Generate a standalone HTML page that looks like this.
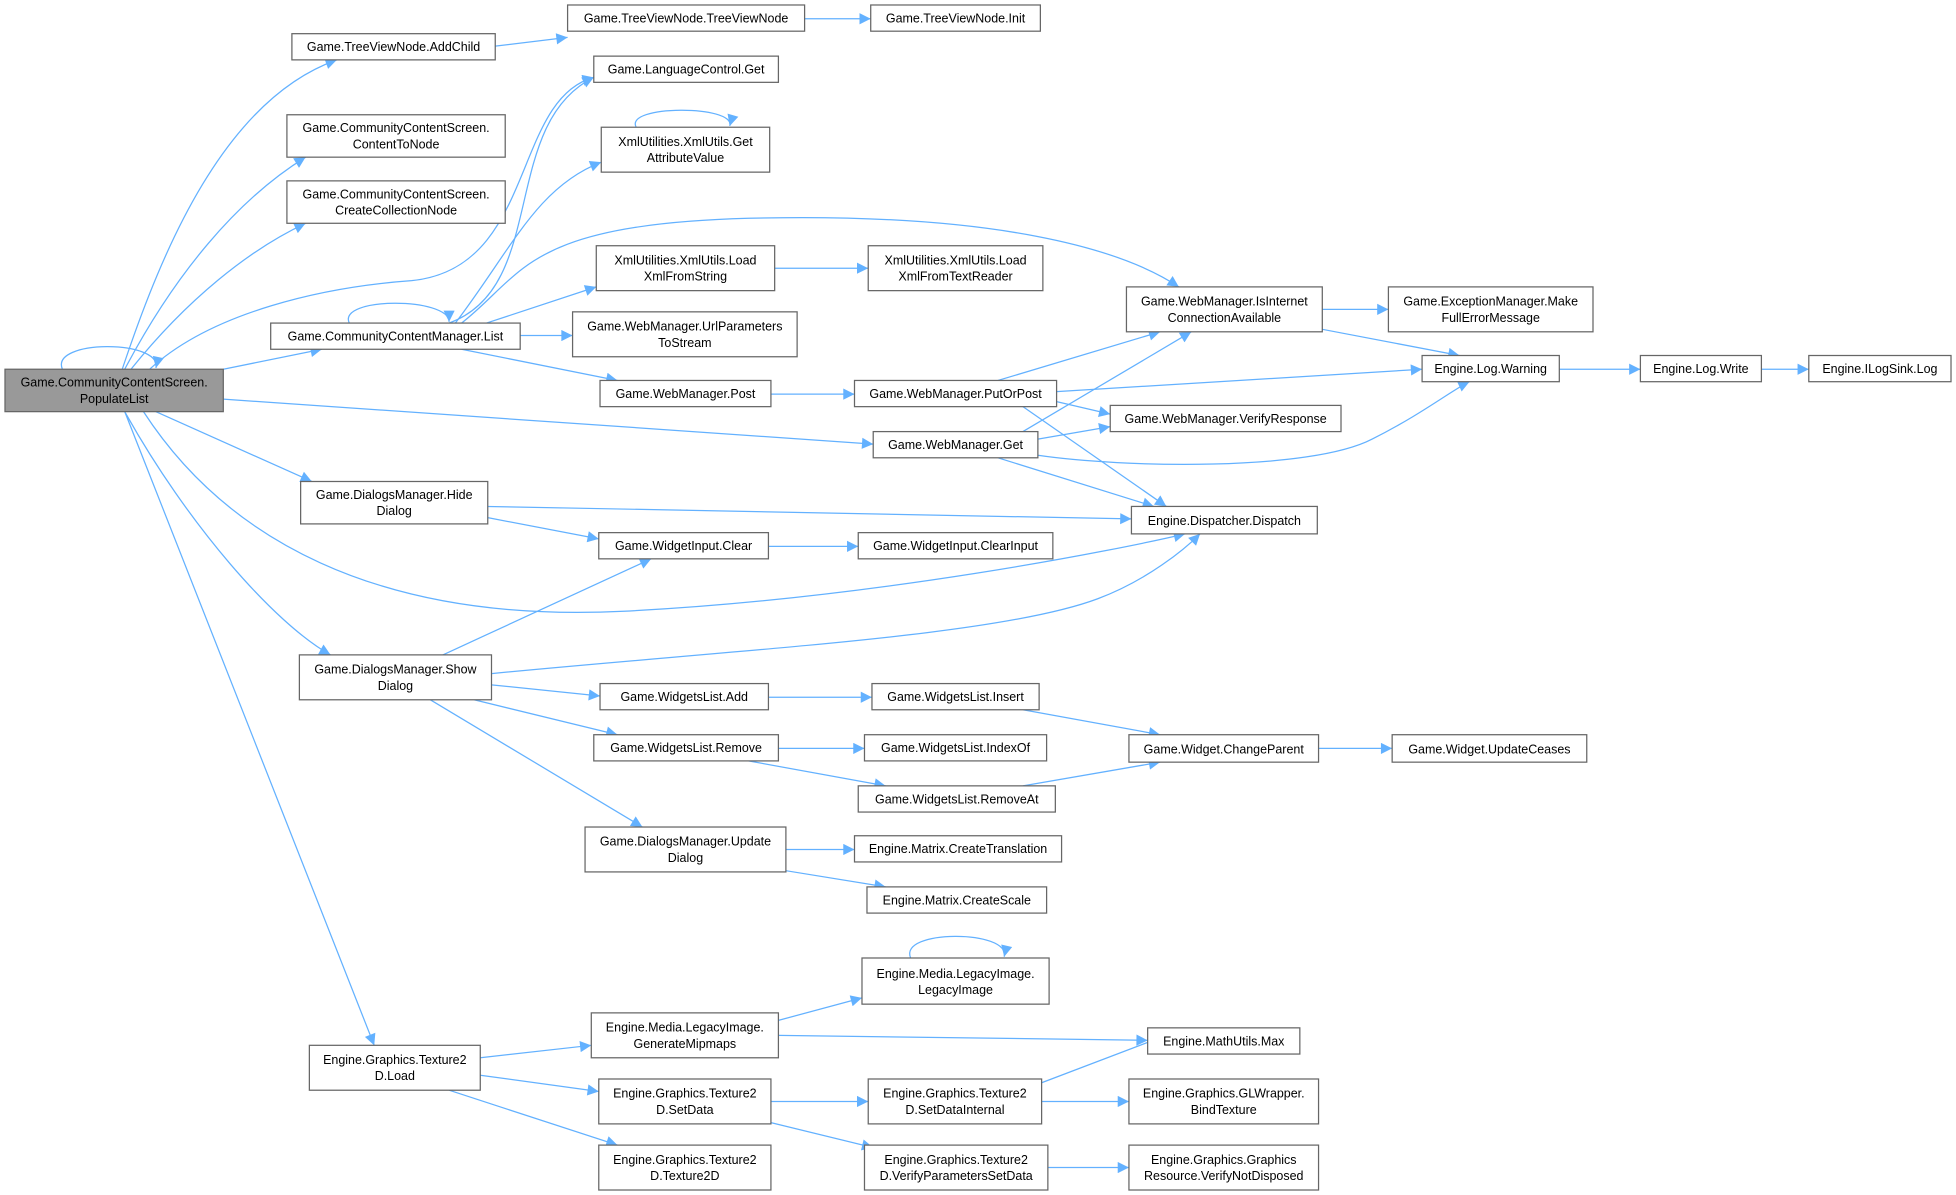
<!DOCTYPE html>
<html><head><meta charset="utf-8"><style>
html,body{margin:0;padding:0;background:#fff;width:1956px;height:1195px;overflow:hidden}
svg text{font-family:"Liberation Sans",Arial,sans-serif;font-size:10px;fill:#000;text-anchor:middle}
.n{fill:#fff;stroke:#666;stroke-width:1}
.e{fill:none;stroke:#63b1ff;stroke-width:1;marker-end:url(#a)}
</style></head><body>
<svg width="1956" height="1195" viewBox="0 0 1568 958" preserveAspectRatio="none" xmlns="http://www.w3.org/2000/svg">
<defs><marker id="a" viewBox="0 0 10 10" refX="10" refY="5" markerWidth="10" markerHeight="9" markerUnits="userSpaceOnUse" orient="auto"><path d="M0,0 L10,5 L0,10 z" fill="#63b1ff"/></marker></defs>
<g>
<path class="e" d="M50,296 C40,272 130,272 125,295"/>
<path class="e" d="M98,296 C130,200 180,80 270,48"/>
<path class="e" d="M100,296 C140,220 190,160 245,126"/>
<path class="e" d="M105,296 C150,240 200,200 245,179"/>
<path class="e" d="M120,296 C170,250 260,230 330,225 C430,215 410,80 476,62"/>
<path class="e" d="M179,296 L258,280"/>
<path class="e" d="M179,320 L700,356"/>
<path class="e" d="M125,330 L250,386"/>
<path class="e" d="M115,330 C180,430 300,500 500,490 C700,480 900,440 950,428"/>
<path class="e" d="M100,330 C150,420 220,500 265,525"/>
<path class="e" d="M100,330 L300,838"/>
<path class="e" d="M397,37 L455,30"/>
<path class="e" d="M645,15 L698,15"/>
<path class="e" d="M280,259 C270,238 360,238 360,258"/>
<path class="e" d="M360,259 C440,230 400,100 476,62"/>
<path class="e" d="M365,259 C410,200 430,150 482,130"/>
<path class="e" d="M370,259 C420,220 420,180 600,175 C800,170 900,200 945,230"/>
<path class="e" d="M390,259 L478,230"/>
<path class="e" d="M417,269 L459,269"/>
<path class="e" d="M370,280 L495,305"/>
<path class="e" d="M510,102 C500,84 590,84 585,101"/>
<path class="e" d="M621,215 L696,215"/>
<path class="e" d="M618,316 L685,316"/>
<path class="e" d="M800,305 L930,266"/>
<path class="e" d="M847,314 L1140,296"/>
<path class="e" d="M847,322 L890,332"/>
<path class="e" d="M820,326 L935,406"/>
<path class="e" d="M820,346 L955,266"/>
<path class="e" d="M832,352 L890,342"/>
<path class="e" d="M832,365 C900,375 1050,378 1100,352 C1140,332 1165,312 1178,306"/>
<path class="e" d="M800,367 L925,406"/>
<path class="e" d="M1060,248 L1113,248"/>
<path class="e" d="M1060,264 L1170,285"/>
<path class="e" d="M1250,296 L1315,296"/>
<path class="e" d="M1412,296 L1450,296"/>
<path class="e" d="M391,406 L907,416"/>
<path class="e" d="M391,415 L480,432"/>
<path class="e" d="M616,438 L688,438"/>
<path class="e" d="M355,525 L522,448"/>
<path class="e" d="M394,540 C600,520 800,510 880,480 C920,465 950,440 962,428"/>
<path class="e" d="M394,549 L481,558"/>
<path class="e" d="M380,561 L495,589"/>
<path class="e" d="M345,561 L515,663"/>
<path class="e" d="M616,559 L699,559"/>
<path class="e" d="M820,569 L930,589"/>
<path class="e" d="M624,600 L693,600"/>
<path class="e" d="M600,610 L710,630"/>
<path class="e" d="M820,630 L930,611"/>
<path class="e" d="M1057,600 L1116,600"/>
<path class="e" d="M630,681 L685,681"/>
<path class="e" d="M630,698 L710,711"/>
<path class="e" d="M730,768 C720,745 810,745 805,767"/>
<path class="e" d="M624,818 L691,800"/>
<path class="e" d="M624,830 L920,834"/>
<path class="e" d="M385,848 L474,838"/>
<path class="e" d="M385,862 L480,875"/>
<path class="e" d="M360,874 L495,918"/>
<path class="e" d="M618,883 L696,883"/>
<path class="e" d="M618,900 L700,920"/>
<path class="e" d="M835,868 L935,830"/>
<path class="e" d="M835,883 L905,883"/>
<path class="e" d="M840,936 L905,936"/>
</g>
<g>
<rect x="4" y="296" width="175" height="34" fill="#999" stroke="#666"/><text x="91.5" y="310">Game.CommunityContentScreen.</text><text x="91.5" y="323">PopulateList</text>
<rect class="n" x="234" y="27" width="163" height="21"/><text x="315.5" y="41">Game.TreeViewNode.AddChild</text>
<rect class="n" x="455" y="4" width="190" height="21"/><text x="550" y="18">Game.TreeViewNode.TreeViewNode</text>
<rect class="n" x="698" y="4" width="136" height="21"/><text x="766" y="18">Game.TreeViewNode.Init</text>
<rect class="n" x="230" y="92" width="175" height="34"/><text x="317.5" y="106">Game.CommunityContentScreen.</text><text x="317.5" y="119">ContentToNode</text>
<rect class="n" x="230" y="145" width="175" height="34"/><text x="317.5" y="159">Game.CommunityContentScreen.</text><text x="317.5" y="172">CreateCollectionNode</text>
<rect class="n" x="476" y="45" width="148" height="21"/><text x="550" y="59">Game.LanguageControl.Get</text>
<rect class="n" x="482" y="102" width="135" height="36"/><text x="549.5" y="117">XmlUtilities.XmlUtils.Get</text><text x="549.5" y="130">AttributeValue</text>
<rect class="n" x="217" y="259" width="200" height="21"/><text x="317" y="273">Game.CommunityContentManager.List</text>
<rect class="n" x="478" y="197" width="143" height="36"/><text x="549.5" y="212">XmlUtilities.XmlUtils.Load</text><text x="549.5" y="225">XmlFromString</text>
<rect class="n" x="696" y="197" width="140" height="36"/><text x="766" y="212">XmlUtilities.XmlUtils.Load</text><text x="766" y="225">XmlFromTextReader</text>
<rect class="n" x="459" y="250" width="180" height="36"/><text x="549" y="265">Game.WebManager.UrlParameters</text><text x="549" y="278">ToStream</text>
<rect class="n" x="481" y="305" width="137" height="21"/><text x="549.5" y="319">Game.WebManager.Post</text>
<rect class="n" x="903" y="230" width="157" height="36"/><text x="981.5" y="245">Game.WebManager.IsInternet</text><text x="981.5" y="258">ConnectionAvailable</text>
<rect class="n" x="1113" y="230" width="164" height="36"/><text x="1195" y="245">Game.ExceptionManager.Make</text><text x="1195" y="258">FullErrorMessage</text>
<rect class="n" x="1140" y="285" width="110" height="21"/><text x="1195" y="299">Engine.Log.Warning</text>
<rect class="n" x="1315" y="285" width="97" height="21"/><text x="1363.5" y="299">Engine.Log.Write</text>
<rect class="n" x="1450" y="285" width="114" height="21"/><text x="1507" y="299">Engine.ILogSink.Log</text>
<rect class="n" x="685" y="305" width="162" height="21"/><text x="766" y="319">Game.WebManager.PutOrPost</text>
<rect class="n" x="890" y="325" width="185" height="21"/><text x="982.5" y="339">Game.WebManager.VerifyResponse</text>
<rect class="n" x="700" y="346" width="132" height="21"/><text x="766" y="360">Game.WebManager.Get</text>
<rect class="n" x="241" y="386" width="150" height="34"/><text x="316" y="400">Game.DialogsManager.Hide</text><text x="316" y="413">Dialog</text>
<rect class="n" x="907" y="406" width="149" height="22"/><text x="981.5" y="421">Engine.Dispatcher.Dispatch</text>
<rect class="n" x="480" y="427" width="136" height="21"/><text x="548" y="441">Game.WidgetInput.Clear</text>
<rect class="n" x="688" y="427" width="156" height="21"/><text x="766" y="441">Game.WidgetInput.ClearInput</text>
<rect class="n" x="240" y="525" width="154" height="36"/><text x="317" y="540">Game.DialogsManager.Show</text><text x="317" y="553">Dialog</text>
<rect class="n" x="481" y="548" width="135" height="21"/><text x="548.5" y="562">Game.WidgetsList.Add</text>
<rect class="n" x="699" y="548" width="134" height="21"/><text x="766" y="562">Game.WidgetsList.Insert</text>
<rect class="n" x="476" y="589" width="148" height="21"/><text x="550" y="603">Game.WidgetsList.Remove</text>
<rect class="n" x="693" y="589" width="146" height="21"/><text x="766" y="603">Game.WidgetsList.IndexOf</text>
<rect class="n" x="688" y="630" width="158" height="21"/><text x="767" y="644">Game.WidgetsList.RemoveAt</text>
<rect class="n" x="905" y="589" width="152" height="22"/><text x="981" y="604">Game.Widget.ChangeParent</text>
<rect class="n" x="1116" y="589" width="156" height="22"/><text x="1194" y="604">Game.Widget.UpdateCeases</text>
<rect class="n" x="469" y="663" width="161" height="36"/><text x="549.5" y="678">Game.DialogsManager.Update</text><text x="549.5" y="691">Dialog</text>
<rect class="n" x="685" y="670" width="166" height="21"/><text x="768" y="684">Engine.Matrix.CreateTranslation</text>
<rect class="n" x="695" y="711" width="144" height="21"/><text x="767" y="725">Engine.Matrix.CreateScale</text>
<rect class="n" x="691" y="768" width="150" height="37"/><text x="766" y="784">Engine.Media.LegacyImage.</text><text x="766" y="797">LegacyImage</text>
<rect class="n" x="474" y="812" width="150" height="36"/><text x="549" y="827">Engine.Media.LegacyImage.</text><text x="549" y="840">GenerateMipmaps</text>
<rect class="n" x="920" y="824" width="122" height="21"/><text x="981" y="838">Engine.MathUtils.Max</text>
<rect class="n" x="248" y="838" width="137" height="36"/><text x="316.5" y="853">Engine.Graphics.Texture2</text><text x="316.5" y="866">D.Load</text>
<rect class="n" x="480" y="865" width="138" height="36"/><text x="549" y="880">Engine.Graphics.Texture2</text><text x="549" y="893">D.SetData</text>
<rect class="n" x="696" y="865" width="139" height="36"/><text x="765.5" y="880">Engine.Graphics.Texture2</text><text x="765.5" y="893">D.SetDataInternal</text>
<rect class="n" x="905" y="865" width="152" height="36"/><text x="981" y="880">Engine.Graphics.GLWrapper.</text><text x="981" y="893">BindTexture</text>
<rect class="n" x="480" y="918" width="138" height="36"/><text x="549" y="933">Engine.Graphics.Texture2</text><text x="549" y="946">D.Texture2D</text>
<rect class="n" x="693" y="918" width="147" height="36"/><text x="766.5" y="933">Engine.Graphics.Texture2</text><text x="766.5" y="946">D.VerifyParametersSetData</text>
<rect class="n" x="905" y="918" width="152" height="36"/><text x="981" y="933">Engine.Graphics.Graphics</text><text x="981" y="946">Resource.VerifyNotDisposed</text>
</g>
</svg>
</body></html>
